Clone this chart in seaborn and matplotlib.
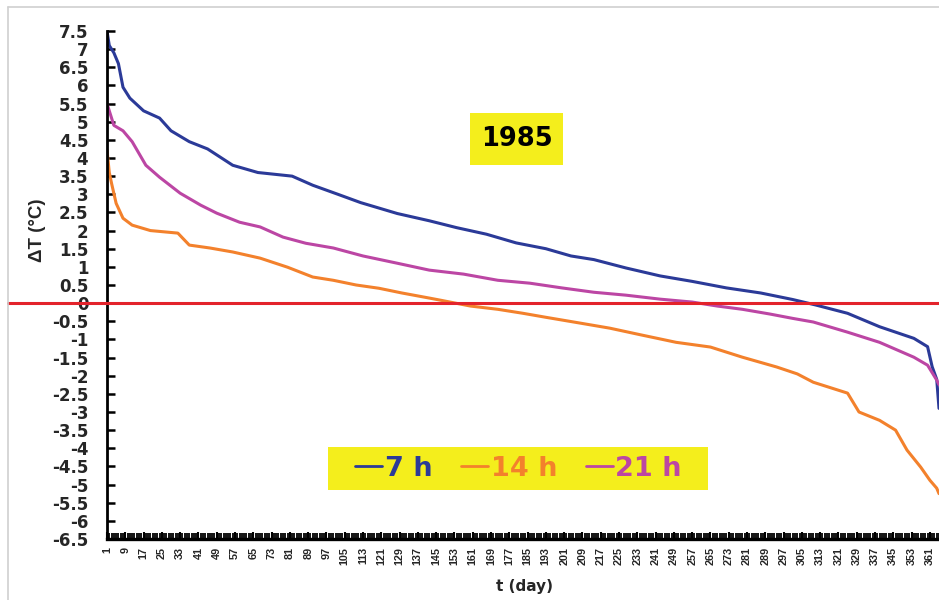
import numpy as np
import pandas as pd
import matplotlib
matplotlib.use("Agg")
import matplotlib.pyplot as plt
from matplotlib.patches import Rectangle
from matplotlib.lines import Line2D
from matplotlib.ticker import FixedLocator, MultipleLocator
import seaborn as sns

# ---------------- data ----------------
days_7h = [1, 2, 4, 6, 8, 11, 17, 24, 29, 37, 45, 56, 67, 82, 91, 102, 112, 128, 142,
           154, 167, 180, 193, 204, 214, 228, 243, 257, 272, 287, 301, 311, 325, 339,
           354, 360, 362, 364, 365]
vals_7h = [7.5, 7.1, 6.9, 6.6, 5.95, 5.65, 5.3, 5.1, 4.75, 4.45, 4.25, 3.8, 3.6, 3.5,
           3.25, 3.0, 2.77, 2.47, 2.27, 2.08, 1.9, 1.66, 1.5, 1.3, 1.2, 0.97, 0.75, 0.6,
           0.42, 0.28, 0.1, -0.05, -0.28, -0.65, -0.97, -1.2, -1.75, -2.1, -2.9]

days_14h = [1, 2, 3, 5, 8, 12, 20, 32, 37, 46, 56, 68, 80, 91, 100, 110, 120, 130, 142,
            147, 160, 172, 183, 193, 208, 221, 235, 250, 265, 279, 294, 303, 310, 325,
            330, 339, 346, 351, 357, 361, 364, 365]
vals_14h = [4.22, 3.6, 3.3, 2.75, 2.34, 2.15, 2.0, 1.93, 1.6, 1.52, 1.41, 1.24, 0.99,
            0.72, 0.63, 0.5, 0.41, 0.28, 0.14, 0.08, -0.08, -0.17, -0.28, -0.39, -0.55,
            -0.69, -0.88, -1.08, -1.21, -1.49, -1.76, -1.95, -2.18, -2.48, -3.0, -3.23,
            -3.5, -4.05, -4.52, -4.88, -5.1, -5.25]

days_21h = [1, 2, 4, 8, 12, 18, 24, 33, 42, 49, 59, 68, 78, 88, 100, 113, 128, 142, 157,
            172, 186, 200, 214, 228, 243, 257, 268, 279, 291, 301, 310, 325, 339, 354,
            360, 364, 365]
vals_21h = [5.5, 5.3, 4.9, 4.75, 4.45, 3.8, 3.47, 3.03, 2.7, 2.48, 2.23, 2.1, 1.82, 1.65,
            1.52, 1.3, 1.1, 0.91, 0.8, 0.63, 0.55, 0.42, 0.3, 0.22, 0.11, 0.03, -0.08,
            -0.17, -0.3, -0.42, -0.52, -0.8, -1.08, -1.49, -1.71, -2.12, -2.25]

series_names = ["7 h", "14 h", "21 h"]
series_colors = ["#2B3A98", "#F3812C", "#BC46A4"]
year_label = "1985"
x_tick_days = list(range(1, 366, 8))
y_tick_values = list(np.arange(-6.5, 7.51, 0.5))

# ---------------- build long-form table ----------------
df = pd.concat([
    pd.DataFrame({"day": days_7h, "dT": vals_7h, "series": series_names[0]}),
    pd.DataFrame({"day": days_14h, "dT": vals_14h, "series": series_names[1]}),
    pd.DataFrame({"day": days_21h, "dT": vals_21h, "series": series_names[2]}),
], ignore_index=True)

sns.set_style("white")
plt.rcParams["font.family"] = ["DejaVu Sans"]
plt.rcParams["axes.unicode_minus"] = False

W, H = 939, 600
fig = plt.figure(figsize=(W / 100, H / 100), dpi=100)
ax = fig.add_axes([107 / W, 61 / H, 832 / W, 508 / H])

palette = dict(zip(series_names, series_colors))
sns.lineplot(data=df, x="day", y="dT", hue="series", hue_order=series_names,
             palette=palette, estimator=None, sort=False, linewidth=2.2, ax=ax)

ax.set_xlim(1, 365)
ax.set_ylim(-6.5, 7.5)

# zero reference line, extending to the left border of the picture
ax.axhline(0, xmin=-(107 - 8) / 832, xmax=1, color="#E3232B", linewidth=2.2,
           clip_on=False, zorder=6)

# spines
for s in ["top", "right"]:
    ax.spines[s].set_visible(False)
ax.spines["left"].set_linewidth(2.0)
ax.spines["bottom"].set_linewidth(2.4)
ax.spines["left"].set_color("black")
ax.spines["bottom"].set_color("black")

# y ticks
ax.yaxis.set_major_locator(FixedLocator(y_tick_values))
ax.set_yticklabels([f"{v:g}" for v in y_tick_values],
                   fontdict={"family": "DejaVu Sans", "weight": "bold", "size": 12})
ax.tick_params(axis="y", direction="in", length=6, width=1.8, pad=13.5, left=True,
               color="black")

# x ticks
ax.xaxis.set_major_locator(FixedLocator(x_tick_days))
ax.xaxis.set_minor_locator(MultipleLocator(1))
ax.set_xticklabels([str(d) for d in x_tick_days], rotation=90,
                   fontdict={"family": "Liberation Sans", "weight": "bold", "size": 7.8})
ax.tick_params(axis="x", which="major", direction="in", length=5, width=1.5, pad=6,
               bottom=True, color="black")
ax.tick_params(axis="x", which="minor", direction="in", length=4, width=1.3,
               bottom=True, color="black")

ax.set_xlabel("")
ax.set_ylabel("")
fig.text(38 / W, 1 - 230 / H, "ΔT (°C)", rotation=90, ha="center", va="center",
         family="Liberation Sans", weight="bold", fontsize=13.5)
fig.text(525 / W, 1 - 587 / H, "t (day)", ha="center", va="center",
         family="DejaVu Sans", weight="bold", fontsize=11)

# year box (drawn in the axes so it sorts with the axes' artists)
ax.add_patch(Rectangle((470 / W, 1 - 165 / H), 93 / W, 52 / H,
                       transform=fig.transFigure, facecolor="#F4EE1C",
                       edgecolor="none", zorder=7, clip_on=False))
ax.text(516.5 / W, 1 - 139.5 / H, year_label, ha="center", va="center",
        transform=fig.transFigure, family="DejaVu Sans", weight="bold",
        fontsize=18.5, color="black", zorder=8)

# legend box
ax.add_patch(Rectangle((328 / W, 1 - 490 / H), 380 / W, 43 / H,
                       transform=fig.transFigure, facecolor="#F4EE1C",
                       edgecolor="none", zorder=7, clip_on=False))
handles, labels = ax.get_legend_handles_labels()
if ax.get_legend() is not None:
    ax.get_legend().remove()
leg = ax.legend(handles, labels, loc="center", bbox_to_anchor=(518.5 / W, 1 - 468.5 / H),
                bbox_transform=fig.transFigure, ncol=3, frameon=False,
                handlelength=1.0, handletextpad=0.1, columnspacing=1.05,
                prop={"family": "DejaVu Sans", "weight": "bold", "size": 19.5},
                labelcolor="linecolor", borderpad=0.0)
leg.set_zorder(10)
for h in leg.legend_handles:
    h.set_linewidth(2.0)

# light gray frame of the original picture
fig.add_artist(Line2D([8 / W, 8 / W], [0, 1 - 7 / H], transform=fig.transFigure,
                      color="#D0D0D0", linewidth=1.2))
fig.add_artist(Line2D([8 / W, 1], [1 - 7 / H, 1 - 7 / H], transform=fig.transFigure,
                      color="#D0D0D0", linewidth=1.2))

fig.savefig("out.png", dpi=100)
